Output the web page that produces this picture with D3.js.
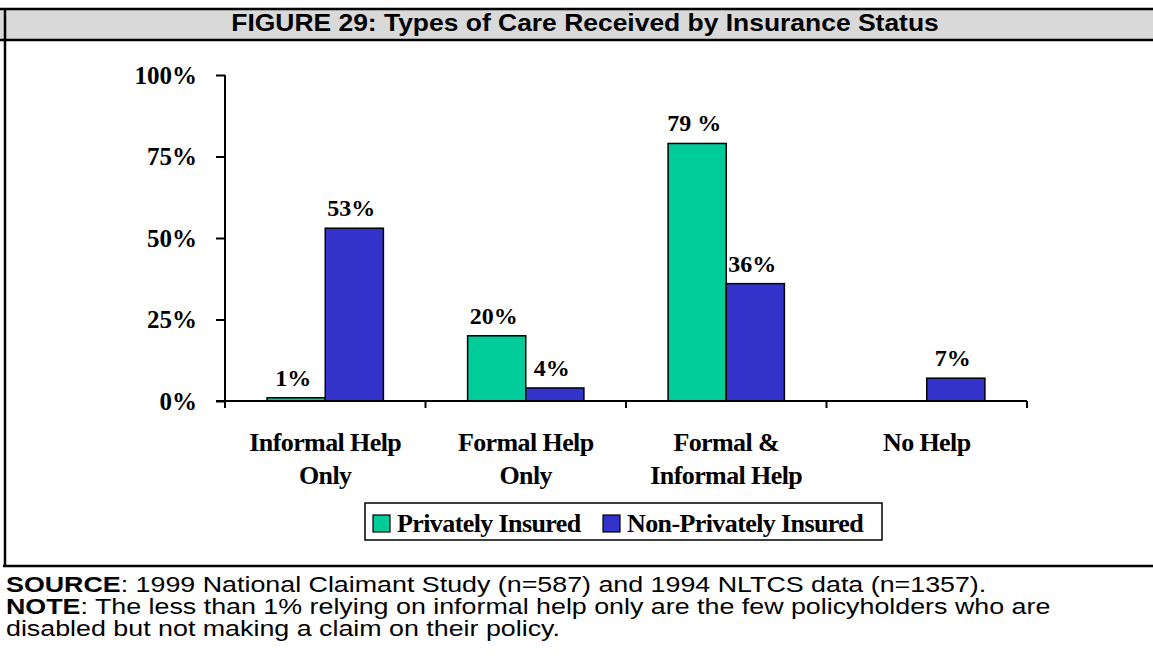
<!DOCTYPE html>
<html>
<head>
<meta charset="utf-8">
<script src="https://cdn.jsdelivr.net/npm/d3@7"></script>
<style>
  html, body { margin: 0; padding: 0; background: #ffffff; }
  svg { display: block; }
</style>
</head>
<body>
<svg id="chart" width="1153" height="660"></svg>
<script>
// ---- data ----
const title = "FIGURE 29: Types of Care Received by Insurance Status";
const categories = [["Informal Help", "Only"], ["Formal Help", "Only"], ["Formal &", "Informal Help"], ["No Help"]];
const seriesNames = ["Privately Insured", "Non-Privately Insured"];
const privatelyInsured = [1, 20, 79, 0];
const nonPrivatelyInsured = [53, 4, 36, 7];
const barLabels = [["1%", "53%"], ["20%", "4%"], ["79 %", "36%"], ["", "7%"]];
const yTicks = [0, 25, 50, 75, 100];
const yTickLabels = ["0%", "25%", "50%", "75%", "100%"];
const footnotes = [
  [["SOURCE", true], [":  1999 National Claimant Study (n=587) and 1994 NLTCS data (n=1357).", false]],
  [["NOTE", true], [":  The less than 1% relying on informal help only are the few policyholders who are", false]],
  [["disabled but not making a claim on their policy.", false]]
];

const colors = ["#00cc99", "#3333cc"];
const W = 1153, H = 660;
const svg = d3.select("#chart");
const serif = "'Liberation Serif', 'Times New Roman', serif";
const sans = "'Liberation Sans', Arial, sans-serif";

// ---- frame ----
const bandTop = 9, bandBot = 40, sepY = 566;
svg.append("rect").attr("x", 0).attr("y", bandTop).attr("width", W).attr("height", bandBot - bandTop).attr("fill", "#d9d9d9");
svg.append("line").attr("x1", 0).attr("x2", W).attr("y1", bandTop).attr("y2", bandTop).attr("stroke", "#000").attr("stroke-width", 2.5);
svg.append("line").attr("x1", 0).attr("x2", W).attr("y1", bandBot).attr("y2", bandBot).attr("stroke", "#000").attr("stroke-width", 2.5);
svg.append("line").attr("x1", 5).attr("x2", 5).attr("y1", bandTop).attr("y2", sepY).attr("stroke", "#000").attr("stroke-width", 2.5);
svg.append("line").attr("x1", 3).attr("x2", W).attr("y1", sepY).attr("y2", sepY).attr("stroke", "#000").attr("stroke-width", 2.5);

svg.append("text").attr("transform", "translate(585,31) scale(1.15,1)").attr("text-anchor", "middle")
  .attr("font-family", sans).attr("font-weight", "bold").attr("font-size", 23).text(title);

// ---- scales ----
const y = d3.scaleLinear().domain([0, 100]).range([401, 75]);
const x0 = d3.scaleBand().domain(d3.range(categories.length)).range([225, 1027]).padding(0);
const bw = x0.bandwidth();
const x1 = d3.scaleBand().domain([0, 1]).range([bw * 0.21, bw * 0.79]).padding(0);

// ---- bar value labels (drawn first so bars can overlap them) ----
const data = categories.map((c, i) => ({ i, vals: [privatelyInsured[i], nonPrivatelyInsured[i]] }));
const labG = svg.append("g").selectAll("g").data(data).join("g")
  .attr("transform", d => `translate(${x0(d.i)},0)`);
labG.selectAll("text").data(d => d.vals.map((v, s) => ({ v, s, lab: barLabels[d.i][s] })).filter(e => e.lab)).join("text")
  .attr("x", d => x1(d.s) + x1.bandwidth() / 2 - 3).attr("y", d => y(d.v) - 12)
  .attr("text-anchor", "middle").attr("font-family", serif).attr("font-weight", "bold")
  .attr("font-size", 24).attr("fill", "#000").text(d => d.lab);

// ---- bars ----
const groups = svg.append("g").selectAll("g").data(data).join("g")
  .attr("transform", d => `translate(${x0(d.i)},0)`);
groups.selectAll("rect").data(d => d.vals.map((v, s) => ({ v, s })).filter(e => e.v > 0)).join("rect")
  .attr("x", d => x1(d.s)).attr("width", x1.bandwidth())
  .attr("y", d => y(d.v)).attr("height", d => y(0) - y(d.v))
  .attr("fill", d => colors[d.s]).attr("stroke", "#000").attr("stroke-width", 1.5);

// ---- y axis ----
const yAxis = d3.axisLeft(y).tickValues(yTicks).tickSize(9).tickPadding(19)
  .tickFormat((d, i) => yTickLabels[i]);
const gy = svg.append("g").attr("transform", "translate(225,0)").call(yAxis);
gy.select(".domain").attr("stroke", "#000").attr("stroke-width", 2).attr("d", `M0,${y(100)}V${y(0) + 7}`);
gy.selectAll(".tick line").attr("stroke", "#000").attr("stroke-width", 2);
gy.selectAll(".tick text").attr("font-family", serif).attr("font-weight", "bold").attr("font-size", 25).attr("fill", "#000");

// ---- x axis ----
const xAxisLine = svg.append("g");
xAxisLine.append("line").attr("x1", 216).attr("x2", 1027).attr("y1", y(0)).attr("y2", y(0)).attr("stroke", "#000").attr("stroke-width", 2);
const bounds = d3.range(1, categories.length + 1).map(i => (i < categories.length ? x0(i) : x0(i - 1) + bw));
xAxisLine.selectAll("line.tk").data(bounds).join("line").attr("class", "tk")
  .attr("x1", d => d).attr("x2", d => d).attr("y1", y(0)).attr("y2", y(0) + 7)
  .attr("stroke", "#000").attr("stroke-width", 2);

// category labels
const catG = svg.append("g");
categories.forEach((lines, i) => {
  const t = catG.append("text").attr("x", x0(i) + bw / 2).attr("y", 451).attr("text-anchor", "middle")
    .attr("font-family", serif).attr("font-weight", "bold").attr("font-size", 26).attr("letter-spacing", -0.6);
  lines.forEach((l, j) => t.append("tspan").attr("x", x0(i) + bw / 2).attr("dy", j === 0 ? 0 : 33).text(l));
});

// ---- legend ----
const lg = svg.append("g").attr("transform", "translate(365,503)");
lg.append("rect").attr("x", 0).attr("y", 0).attr("width", 517).attr("height", 37)
  .attr("fill", "#fff").attr("stroke", "#000").attr("stroke-width", 1.5);
const legX = [8, 238];
seriesNames.forEach((n, s) => {
  lg.append("rect").attr("x", legX[s]).attr("y", 12).attr("width", 17).attr("height", 17)
    .attr("fill", colors[s]).attr("stroke", "#000").attr("stroke-width", 1.2);
  lg.append("text").attr("x", legX[s] + 24).attr("y", 29).attr("font-family", serif).attr("font-weight", "bold")
    .attr("font-size", 26).attr("letter-spacing", -0.6).text(n);
});

// ---- footnotes ----
footnotes.forEach((parts, i) => {
  const t = svg.append("text").attr("transform", `translate(6,${592 + i * 22}) scale(1.22,1)`)
    .attr("font-family", sans).attr("font-size", 22).attr("fill", "#000");
  parts.forEach(p => t.append("tspan").attr("font-weight", p[1] ? "bold" : "normal").text(p[0]));
});
</script>
</body>
</html>
